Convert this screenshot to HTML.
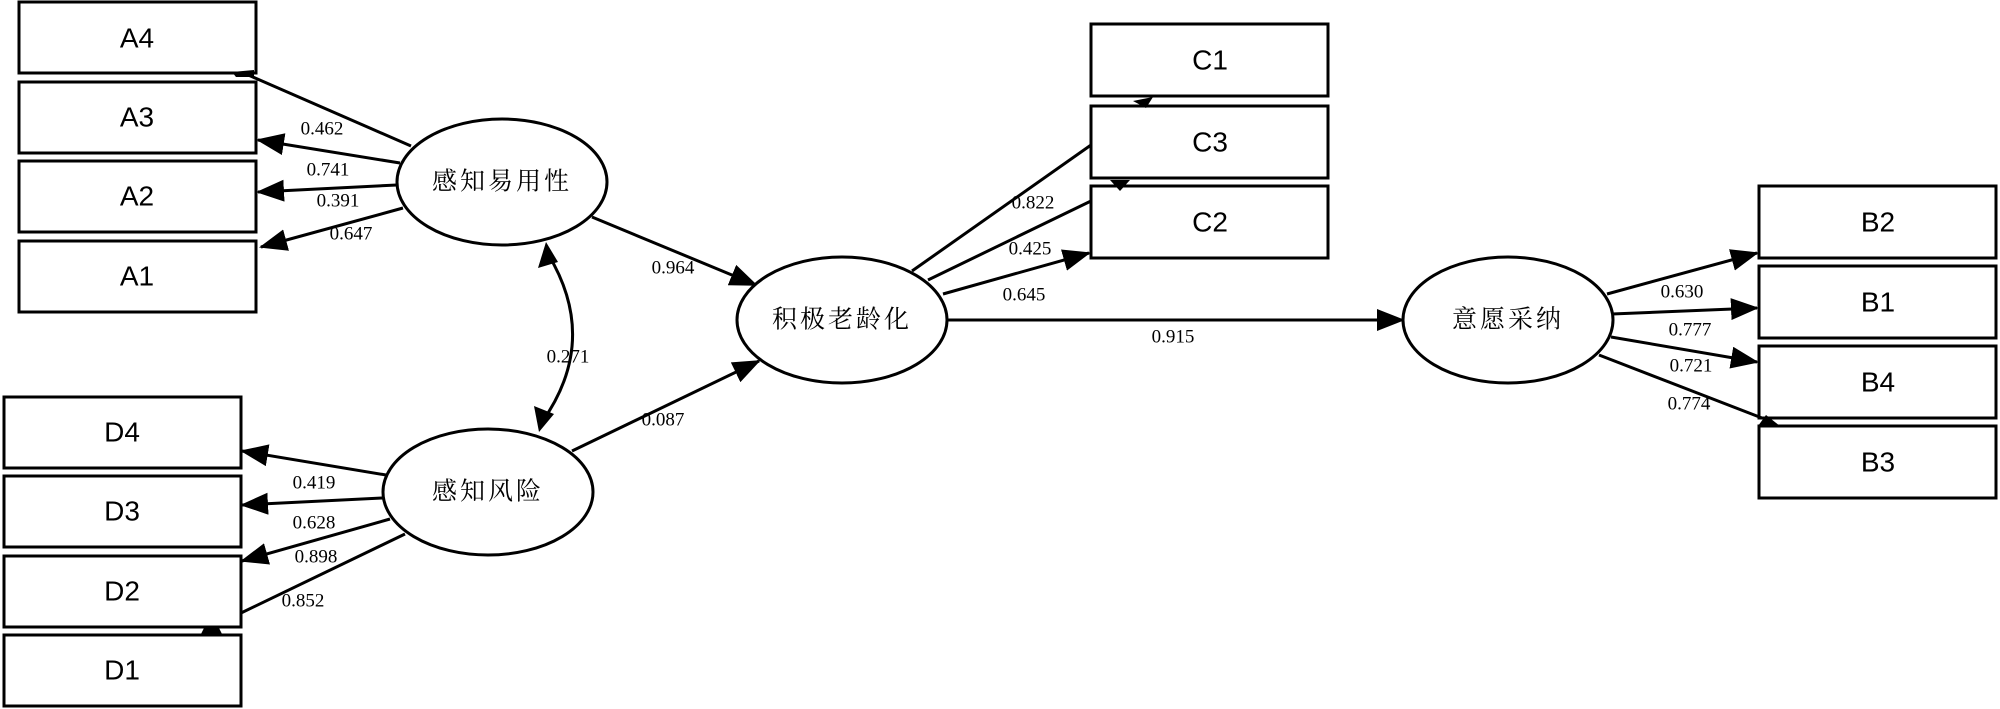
<!DOCTYPE html>
<html><head><meta charset="utf-8"><style>
html,body{margin:0;padding:0;background:#fff;}
svg{display:block;}
.b{fill:#fff;stroke:#000;stroke-width:3;}
.l{stroke:#000;stroke-width:3;fill:none;}
.bt{font-family:"Liberation Sans",sans-serif;font-size:28px;text-anchor:middle;dominant-baseline:central;}
.et{font-family:"Liberation Serif","Noto Serif CJK SC",serif;font-size:25px;text-anchor:middle;dominant-baseline:central;letter-spacing:3px;}
.n{font-family:"Liberation Serif",serif;font-size:19px;text-anchor:middle;dominant-baseline:central;}
</style></head><body>
<svg width="2000" height="709" viewBox="0 0 2000 709" xmlns="http://www.w3.org/2000/svg">
<defs>
<marker id="a" markerUnits="userSpaceOnUse" markerWidth="28" markerHeight="22" refX="26" refY="11" orient="auto"><path d="M0,0 L28,11 L0,22 Z" fill="#000"/></marker>
<marker id="s" markerUnits="userSpaceOnUse" markerWidth="28" markerHeight="22" refX="2" refY="11" orient="auto"><path d="M28,0 L0,11 L28,22 Z" fill="#000"/></marker>
</defs>
<!-- A boxes -->
<rect class="b" x="19" y="2" width="237" height="71"/><text class="bt" x="137" y="38">A4</text>
<rect class="b" x="19" y="82" width="237" height="71"/><text class="bt" x="137" y="117">A3</text>
<rect class="b" x="19" y="161" width="237" height="71"/><text class="bt" x="137" y="196">A2</text>
<rect class="b" x="19" y="241" width="237" height="71"/><text class="bt" x="137" y="276">A1</text>
<!-- D boxes -->
<rect class="b" x="4" y="397" width="237" height="71"/><text class="bt" x="122" y="432">D4</text>
<rect class="b" x="4" y="476" width="237" height="71"/><text class="bt" x="122" y="511">D3</text>
<rect class="b" x="4" y="556" width="237" height="71"/><text class="bt" x="122" y="591">D2</text>
<rect class="b" x="4" y="635" width="237" height="71"/><text class="bt" x="122" y="670">D1</text>
<!-- C boxes -->
<rect class="b" x="1091" y="24" width="237" height="72"/><text class="bt" x="1210" y="60">C1</text>
<rect class="b" x="1091" y="106" width="237" height="72"/><text class="bt" x="1210" y="142">C3</text>
<rect class="b" x="1091" y="186" width="237" height="72"/><text class="bt" x="1210" y="222">C2</text>
<!-- B boxes -->
<rect class="b" x="1759" y="186" width="237" height="72"/><text class="bt" x="1878" y="222">B2</text>
<rect class="b" x="1759" y="266" width="237" height="72"/><text class="bt" x="1878" y="302">B1</text>
<rect class="b" x="1759" y="346" width="237" height="72"/><text class="bt" x="1878" y="382">B4</text>
<rect class="b" x="1759" y="426" width="237" height="72"/><text class="bt" x="1878" y="462">B3</text>

<!-- connectors A -->
<line class="l" x1="411" y1="146" x2="246" y2="74"/>
<path d="M232,72 L254,70 L254,77 L236,77Z" fill="#000"/>
<line class="l" x1="400" y1="163" x2="258" y2="140" marker-end="url(#a)"/>
<line class="l" x1="397" y1="185" x2="258" y2="192" marker-end="url(#a)"/>
<line class="l" x1="403" y1="208" x2="261" y2="247" marker-end="url(#a)"/>
<text class="n" x="322" y="129">0.462</text>
<text class="n" x="328" y="170">0.741</text>
<text class="n" x="338" y="201">0.391</text>
<text class="n" x="351" y="234">0.647</text>
<!-- connectors D -->
<line class="l" x1="386" y1="475" x2="242" y2="451" marker-end="url(#a)"/>
<line class="l" x1="383" y1="498" x2="242" y2="505" marker-end="url(#a)"/>
<line class="l" x1="390" y1="519" x2="242" y2="561" marker-end="url(#a)"/>
<line class="l" x1="405" y1="534" x2="241" y2="613"/>
<path d="M201,634 L205,626 L218,626 L222,634Z" fill="#000"/>
<text class="n" x="314" y="483">0.419</text>
<text class="n" x="314" y="523">0.628</text>
<text class="n" x="316" y="557">0.898</text>
<text class="n" x="303" y="601">0.852</text>
<!-- structural -->
<line class="l" x1="592" y1="217" x2="756" y2="285" marker-end="url(#a)"/>
<text class="n" x="673" y="268">0.964</text>
<path class="l" d="M548,254 Q600,340 542,422"/>
<path d="M546,242 L538,268 L558,262Z" fill="#000"/>
<path d="M539,432 L534,406 L554,414Z" fill="#000"/>
<text class="n" x="568" y="357">0.271</text>
<line class="l" x1="572" y1="451" x2="759" y2="361" marker-end="url(#a)"/>
<text class="n" x="663" y="420">0.087</text>
<!-- C connectors -->
<line class="l" x1="912" y1="271" x2="1091" y2="145"/>
<path d="M1133,101 L1153,97 L1146,108Z" fill="#000"/>
<line class="l" x1="928" y1="280" x2="1091" y2="201"/>
<path d="M1110,180 L1130,180 L1120,191Z" fill="#000"/>
<line class="l" x1="943" y1="294" x2="1089" y2="253" marker-end="url(#a)"/>
<text class="n" x="1033" y="203">0.822</text>
<text class="n" x="1030" y="249">0.425</text>
<text class="n" x="1024" y="295">0.645</text>
<line class="l" x1="947" y1="320" x2="1403" y2="320" marker-end="url(#a)"/>
<text class="n" x="1173" y="337">0.915</text>
<!-- B connectors -->
<line class="l" x1="1607" y1="294" x2="1757" y2="253" marker-end="url(#a)"/>
<line class="l" x1="1612" y1="314" x2="1757" y2="308" marker-end="url(#a)"/>
<line class="l" x1="1611" y1="337" x2="1757" y2="362" marker-end="url(#a)"/>
<line class="l" x1="1599" y1="355" x2="1762" y2="418"/>
<path d="M1758,426 L1766,415 L1780,426Z" fill="#000"/>
<text class="n" x="1682" y="292">0.630</text>
<text class="n" x="1690" y="330">0.777</text>
<text class="n" x="1691" y="366">0.721</text>
<text class="n" x="1689" y="404">0.774</text>
<!-- ellipses -->
<ellipse class="b" cx="502" cy="182" rx="105" ry="63"/><text class="et" x="502" y="182">感知易用性</text>
<ellipse class="b" cx="842" cy="320" rx="105" ry="63"/><text class="et" x="842" y="320">积极老龄化</text>
<ellipse class="b" cx="488" cy="492" rx="105" ry="63"/><text class="et" x="488" y="492">感知风险</text>
<ellipse class="b" cx="1508" cy="320" rx="105" ry="63"/><text class="et" x="1508" y="320">意愿采纳</text>
</svg>
</body></html>
